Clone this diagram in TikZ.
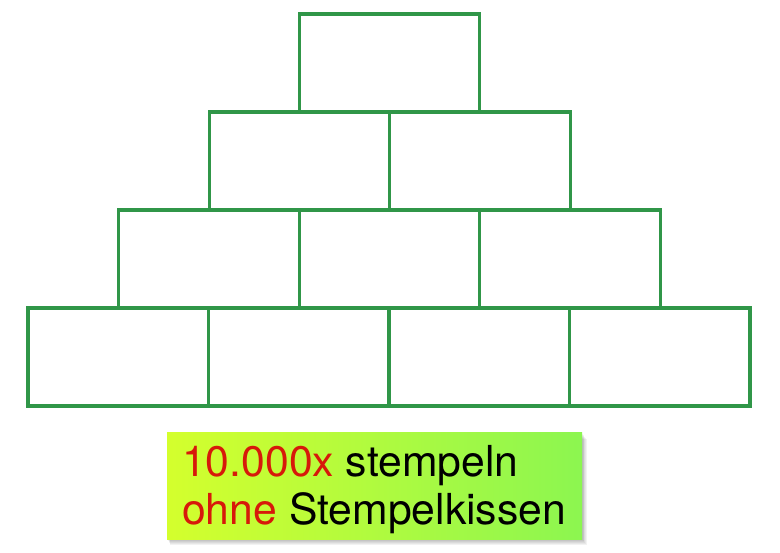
\documentclass[tikz,border=0pt]{standalone}
\usepackage{fontspec}
\setmainfont{TeX Gyre Heros}
\definecolor{boxgreen}{RGB}{48,150,72}
\definecolor{txtred}{RGB}{215,25,10}
\definecolor{gradl}{RGB}{212,255,45}
\definecolor{gradr}{RGB}{140,246,80}
\begin{document}
\begin{tikzpicture}[x=1pt,y=-1pt,
  brick/.style={draw=boxgreen,line width=3.3pt,minimum width=180.5pt,minimum height=98pt,inner sep=0pt,outer sep=0pt},
  txt/.style={anchor=base west,inner sep=0pt,font=\fontsize{42.7}{48}\selectfont}]
\useasboundingbox (0,0) rectangle (780,553);
% bricks
\node[brick] (b1) at (118.25,357) {};
\node[brick] (b2) at (298.75,357) {};
\node[brick] (b3) at (479.25,357) {};
\node[brick] (b4) at (659.75,357) {};
\node[brick] (c1) at (209,259) {};
\node[brick] (c2) at (389.5,259) {};
\node[brick] (c3) at (570,259) {};
\node[brick] (d1) at (299.5,161) {};
\node[brick] (d2) at (480,161) {};
\node[brick] (e1) at (389.5,63) {};
% shadow
\foreach \i in {1,...,6}{
  \fill[black,opacity=0.05] (167+\i*0.5,433+\i) rectangle (582+\i*0.8,539+\i*1.0);
}
% label box
\shade[left color=gradl,right color=gradr] (167,433) rectangle (582,539);
\node[txt] (l1) at (182,477) {\textcolor{txtred}{10.000x} stempeln};
\node[txt] (l2) at (182,525) {\textcolor{txtred}{ohne} Stempelkissen};
\end{tikzpicture}
\end{document}
